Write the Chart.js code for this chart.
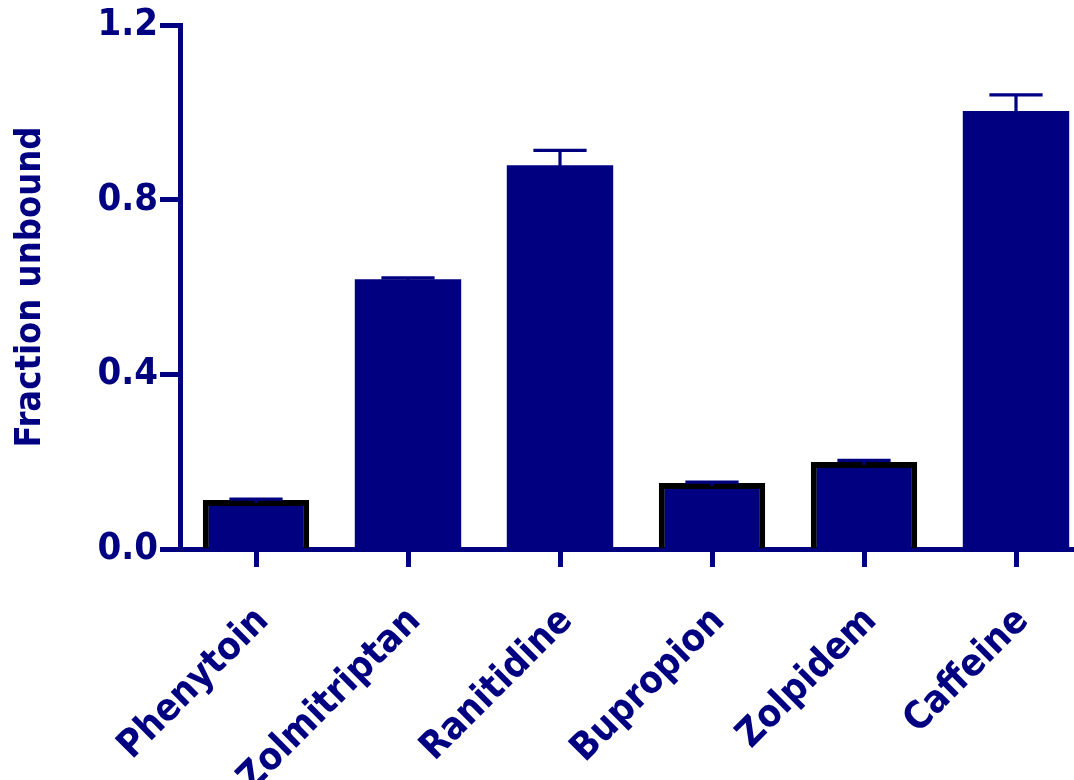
<!DOCTYPE html>
<html>
<head>
<meta charset="utf-8">
<script src="https://cdn.jsdelivr.net/npm/chart.js@4.4.1/dist/chart.umd.min.js"></script>
<style>
  html, body { margin: 0; padding: 0; background: #ffffff; overflow: hidden; }
  #wrap { position: absolute; left: 0; top: 0; width: 1100px; height: 780px; }
</style>
</head>
<body>
<div id="wrap"><canvas id="chart" width="1100" height="780"></canvas></div>
<script>
// Fraction of drug unbound, mean with SEM (upper arm only)
const drugs = ['Phenytoin', 'Zolmitriptan', 'Ranitidine', 'Bupropion', 'Zolpidem', 'Caffeine'];
const fractionUnbound = [0.112, 0.618, 0.879, 0.151, 0.199, 1.003];
const sem = [0.002, 0.003, 0.034, 0.002, 0.004, 0.037];
const outlined = [true, false, false, true, true, false];
const yTicks = [0.0, 0.4, 0.8, 1.2];

const NAVY = '#000080';
const FONT = "'DejaVu Sans Condensed', 'DejaVu Sans', sans-serif";

// Upward error bars with a cap, placed via the bar elements and the y scale
const errorBars = {
  id: 'errorBars',
  afterDatasetsDraw(chart) {
    const ctx = chart.ctx;
    const yScale = chart.scales.y;
    const meta = chart.getDatasetMeta(0);
    ctx.save();
    ctx.strokeStyle = NAVY;
    ctx.lineWidth = 3.2;
    meta.data.forEach((bar, i) => {
      const yMean = yScale.getPixelForValue(fractionUnbound[i]);
      const yTop = yScale.getPixelForValue(fractionUnbound[i] + sem[i]);
      const half = bar.width * 0.25;
      ctx.beginPath();
      ctx.moveTo(bar.x, yMean + 3);
      ctx.lineTo(bar.x, yTop);
      ctx.moveTo(bar.x - half, yTop);
      ctx.lineTo(bar.x + half, yTop);
      ctx.stroke();
    });
    ctx.restore();
  }
};

new Chart(document.getElementById('chart'), {
  type: 'bar',
  data: {
    labels: drugs,
    datasets: [{
      data: fractionUnbound,
      backgroundColor: NAVY,
      borderColor: outlined.map(o => o ? '#000000' : NAVY),
      borderWidth: outlined.map(o => o ? 6 : 0),
      borderSkipped: 'start',
      categoryPercentage: 1.0,
      barPercentage: 0.70
    }]
  },
  options: {
    responsive: false,
    animation: false,
    events: [],
    layout: { padding: { left: 0, right: 8, top: 25, bottom: 0 } },
    plugins: { legend: { display: false }, tooltip: { enabled: false } },
    scales: {
      x: {
        offset: true,
        grid: {
          display: true,
          offset: false,
          drawOnChartArea: false,
          drawTicks: true,
          tickLength: 18,
          tickWidth: 5,
          tickColor: NAVY,
          color: NAVY
        },
        border: { display: true, color: NAVY, width: 5 },
        ticks: {
          autoSkip: false,
          minRotation: 45,
          maxRotation: 45,
          padding: 32,
          labelOffset: 7,
          color: NAVY,
          font: { family: FONT, size: 38, weight: 'bold' }
        },
        afterFit(scale) { scale.height = 231; }
      },
      y: {
        min: 0,
        max: 1.2,
        afterBuildTicks(scale) { scale.ticks = yTicks.map(v => ({ value: v })); },
        grid: {
          display: true,
          drawOnChartArea: false,
          drawTicks: true,
          tickLength: 20,
          tickWidth: 5,
          tickColor: NAVY,
          color: NAVY
        },
        border: { display: true, color: NAVY, width: 5 },
        ticks: {
          padding: 2,
          color: NAVY,
          font: { family: FONT, size: 38, weight: 'bold' },
          callback: v => Number(v).toFixed(1)
        },
        title: {
          display: true,
          text: 'Fraction unbound',
          color: NAVY,
          padding: { top: 9, bottom: 0 },
          font: { family: FONT, size: 36, weight: 'bold' }
        },
        afterFit(scale) { scale.width = 180; }
      }
    }
  },
  plugins: [errorBars]
});
</script>
</body>
</html>
